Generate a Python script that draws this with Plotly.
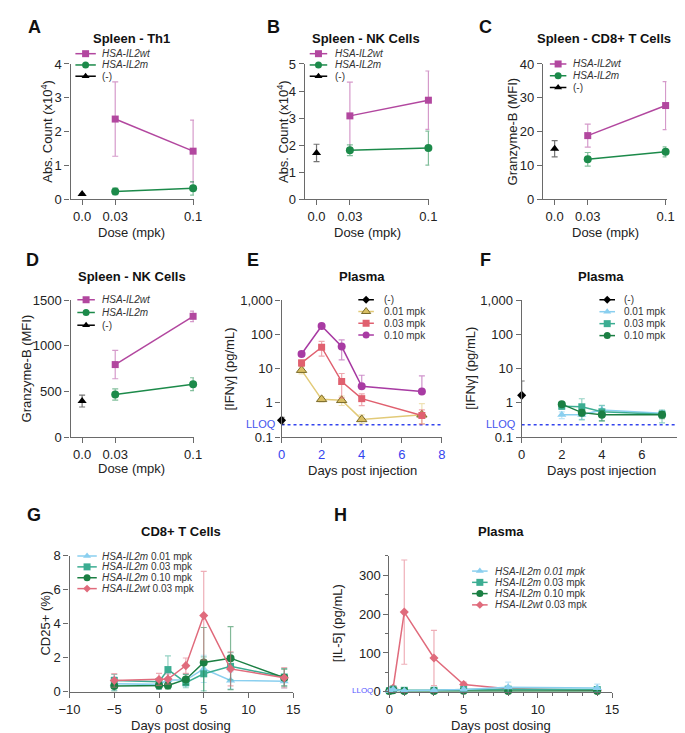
import math
import plotly.graph_objects as go

W, H = 685, 733
FONT = "Liberation Sans, Arial, Helvetica, sans-serif"
AX = "#6a6a6a"
TXT = "#222222"

# ---------------- data ----------------
dose_labels = ["0.0", "0.03", "0.1"]
dose_values = [0.0, 0.03, 0.1]
treated_doses = [0.03, 0.1]
control_dose = [0.0]

# A  Spleen - Th1, Abs. count (x10^4)
th1_wt = [2.37, 1.42]; th1_wt_err = [1.10, 0.92]
th1_m = [0.23, 0.32]; th1_m_err = [0.10, 0.20]
th1_neg = [0.15]; th1_neg_err = [0.0]

# B  Spleen - NK cells, Abs. count (x10^4)
nk_wt = [3.08, 3.66]; nk_wt_err = [1.25, 1.08]
nk_m = [1.81, 1.89]; nk_m_err = [0.20, 0.63]
nk_neg = [1.71]; nk_neg_err = [0.32]

# C  Spleen - CD8+ T cells, Granzyme-B (MFI)
cd8_wt = [18.8, 27.7]; cd8_wt_err = [3.4, 7.1]
cd8_m = [11.8, 14.0]; cd8_m_err = [2.0, 1.5]
cd8_neg = [14.9]; cd8_neg_err = [2.4]

# D  Spleen - NK cells, Granzyme-B (MFI)
nkg_wt = [794, 1322]; nkg_wt_err = [155, 57]
nkg_m = [467, 580]; nkg_m_err = [62, 70]
nkg_neg = [395]; nkg_neg_err = [65]

# E  Plasma IFNg, HSA-IL2wt doses
e_days = [1, 2, 3, 4, 7]
e_neg_day = [0]; e_neg = [0.31]; e_neg_hi = [0.07]; e_neg_lo = [0.07]
e_001 = [9.0, 1.27, 1.19, 0.33, 0.45]
e_001_hi = [2.5, 0.25, 0.40, 0.12, 0.50]; e_001_lo = [2.0, 0.20, 0.35, 0.08, 0.20]
e_003 = [14.7, 42.0, 4.2, 1.33, 0.43]
e_003_hi = [3.0, 20.0, 3.0, 0.50, 0.20]; e_003_lo = [3.0, 19.0, 2.8, 0.50, 0.19]
e_010 = [26.6, 175.0, 44.0, 3.05, 2.15]
e_010_hi = [4.0, 15.0, 25.0, 3.35, 4.0]; e_010_lo = [4.0, 15.0, 26.0, 0.0, 0.0]

# F  Plasma IFNg, HSA-IL2m doses
f_days = [2, 3, 4, 7]
f_neg_day = [0]; f_neg = [1.66]; f_neg_hi = [2.7]; f_neg_lo = [0.0]
f_001 = [0.45, 0.45, 0.62, 0.50]
f_001_hi = [0.10, 0.15, 0.20, 0.10]; f_001_lo = [0.10, 0.12, 0.15, 0.10]
f_003 = [0.80, 0.77, 0.55, 0.47]
f_003_hi = [0.15, 0.55, 0.30, 0.15]; f_003_lo = [0.15, 0.45, 0.25, 0.21]
f_010 = [0.92, 0.52, 0.45, 0.45]
f_010_hi = [0.10, 0.10, 0.15, 0.10]; f_010_lo = [0.10, 0.10, 0.15, 0.10]

lloq_ifng = 0.23

# G  CD8+ T cells CD25+ (%)
g_days = [-5, 0, 1, 3, 5, 8, 14]
g_m001 = [0.48, 0.44, 0.69, 0.69, 1.35, 0.67, 0.63]; g_m001_err = [0.40, 0.30, 0.40, 0.35, 0.80, 0.50, 0.40]
g_m003 = [0.67, 0.60, 1.31, 0.54, 1.06, 1.50, 0.87]; g_m003_err = [0.35, 0.20, 0.80, 0.30, 1.00, 0.80, 0.50]
g_m010 = [0.35, 0.38, 0.38, 0.73, 1.73, 1.98, 0.83]; g_m010_err = [0.30, 0.20, 0.20, 0.30, 2.05, 1.85, 0.50]
g_wt003 = [0.67, 0.73, 0.75, 1.54, 4.48, 1.35, 0.83]; g_wt003_err = [0.40, 0.35, 0.30, 0.45, 2.60, 1.00, 0.60]

# H  Plasma IL-5 (pg/mL)
h_days = [0, 0.25, 1, 3, 5, 8, 14]
h_m001 = [3, 6, 3, 4, 6, 12, 10]; h_m001_err = [2, 3, 2, 3, 4, 13, 10]
h_m003 = [3, 7, 4, 4, 6, 7, 6]; h_m003_err = [2, 3, 2, 2, 3, 5, 4]
h_m010 = [2, 4, 2, 2, 3, 2, 2]; h_m010_err = [1, 2, 1, 1, 2, 1, 1]
h_wt003 = [3, 10, 205, 87, 19, 8, 4]; h_wt003_err = [2, 5, 134, 71, 6, 3, 2]

# ---------------- colours ----------------
C_WT = "#B2479F"
C_M = "#1C8A4A"
C_BLK = "#000000"
C_Y = "#D8BE62"; C_Y_LINE = "#E2CA78"; C_Y_EDGE = "#7A6A2A"
C_R = "#E0606F"
C_P = "#A83BA3"
C_LB = "#8ACFEF"
C_TEAL = "#3CAD92"
C_DG = "#1B7F43"
C_PINK = "#E06B7C"
C_BLUE = "#3344EE"


def rgba(hx, a):
    hx = hx.lstrip("#")
    r, g, b = int(hx[0:2], 16), int(hx[2:4], 16), int(hx[4:6], 16)
    return f"rgba({r},{g},{b},{a})"


def dose_axis(d):
    # segmented dose axis: 0 on its own segment, log spacing for treated doses
    return 0.0 if d == 0 else 1.0 + 4.5 * math.log10(d / 0.03)


fig = go.Figure()
layout = {}


def base_axis(**kw):
    d = dict(showline=True, linecolor=AX, linewidth=1.3, ticks="outside", ticklen=5,
             tickwidth=1.3, tickcolor=AX, showgrid=False, zeroline=False,
             tickfont=dict(family=FONT, size=13, color=TXT), fixedrange=True)
    d.update(kw)
    return d


def set_axes(n, xpx, ypx, xkw, ykw):
    k = "" if n == 1 else str(n)
    layout["xaxis" + k] = base_axis(domain=[xpx[0] / W, xpx[1] / W], anchor="y" + k, **xkw)
    layout["yaxis" + k] = base_axis(domain=[1 - ypx[1] / H, 1 - ypx[0] / H], anchor="x" + k, **ykw)


def series(n, x, y, err, color, symbol, size=8, err_lo=None, line_color=None, edge=None):
    k = "" if n == 1 else str(n)
    ey = dict(type="data", array=err, color=rgba(line_color or color, 0.55), thickness=1.2, width=3)
    if err_lo is not None:
        ey.update(symmetric=False, arrayminus=err_lo)
    fig.add_trace(go.Scatter(
        x=x, y=y, mode="lines+markers", xaxis="x" + k, yaxis="y" + k,
        marker=dict(symbol=symbol, size=size, color=color,
                    line=dict(width=0 if edge is None else 1, color=edge or color)),
        line=dict(color=line_color or color, width=1.5),
        error_y=ey, cliponaxis=False, showlegend=False, hoverinfo="skip"))


dose_ticks = dict(range=[-0.35, 3.38], tickmode="array",
                  tickvals=[dose_axis(d) for d in dose_values], ticktext=dose_labels)
tx = [dose_axis(d) for d in treated_doses]
cx = [dose_axis(d) for d in control_dose]

# A
set_axes(1, (53, 180), (50, 188), dose_ticks, dict(range=[0, 4], dtick=1))
series(1, tx, th1_wt, th1_wt_err, C_WT, "square", 7)
series(1, tx, th1_m, th1_m_err, C_M, "circle", 8)
series(1, cx, th1_neg, th1_neg_err, C_BLK, "triangle-up", 8)
# B
set_axes(2, (294, 422), (50, 188), dose_ticks, dict(range=[0, 5], dtick=1))
series(2, tx, nk_wt, nk_wt_err, C_WT, "square", 7)
series(2, tx, nk_m, nk_m_err, C_M, "circle", 8)
series(2, cx, nk_neg, nk_neg_err, C_BLK, "triangle-up", 8)
# C
set_axes(3, (539, 666), (50, 188), dose_ticks, dict(range=[0, 40], dtick=10))
series(3, tx, cd8_wt, cd8_wt_err, C_WT, "square", 7)
series(3, tx, cd8_m, cd8_m_err, C_M, "circle", 8)
series(3, cx, cd8_neg, cd8_neg_err, C_BLK, "triangle-up", 8)
# D
set_axes(4, (53, 180), (291, 431), dose_ticks, dict(range=[0, 1500], dtick=500))
series(4, tx, nkg_wt, nkg_wt_err, C_WT, "square", 7)
series(4, tx, nkg_m, nkg_m_err, C_M, "circle", 8)
series(4, cx, nkg_neg, nkg_neg_err, C_BLK, "triangle-up", 8)

log_ticks = dict(type="log", range=[-1, 3], tickmode="array",
                 tickvals=[0.1, 1, 10, 100, 1000], ticktext=["0.1", "1", "10", "100", "1,000"])
# E
set_axes(5, (270, 435), (291, 431),
         dict(range=[0, 8], dtick=2, tickfont=dict(family=FONT, size=13, color=C_BLUE)), log_ticks)
fig.add_trace(go.Scatter(x=[0, 8], y=[lloq_ifng, lloq_ifng], mode="lines", xaxis="x5", yaxis="y5",
                         line=dict(color=C_BLUE, width=1.6, dash="dot"), showlegend=False, hoverinfo="skip"))
series(5, e_days, e_001, e_001_hi, C_Y, "triangle-up", 9, e_001_lo, line_color=C_Y_LINE, edge=C_Y_EDGE)
series(5, e_days, e_003, e_003_hi, C_R, "square", 7, e_003_lo)
series(5, e_days, e_010, e_010_hi, C_P, "circle", 8, e_010_lo)
series(5, e_neg_day, e_neg, e_neg_hi, C_BLK, "diamond", 7, e_neg_lo)
# F
set_axes(6, (517, 682), (291, 431), dict(range=[0, 8], dtick=2), log_ticks)
fig.add_trace(go.Scatter(x=[0, 8], y=[lloq_ifng, lloq_ifng], mode="lines", xaxis="x6", yaxis="y6",
                         line=dict(color=C_BLUE, width=1.6, dash="dot"), showlegend=False, hoverinfo="skip"))
series(6, f_days, f_001, f_001_hi, C_LB, "triangle-up", 8, f_001_lo)
series(6, f_days, f_003, f_003_hi, C_TEAL, "square", 7, f_003_lo)
series(6, f_days, f_010, f_010_hi, C_DG, "circle", 8, f_010_lo)
series(6, f_neg_day, f_neg, f_neg_hi, C_BLK, "diamond", 7, f_neg_lo)
# G
set_axes(7, (52, 282), (552, 691), dict(range=[-10, 15], dtick=5), dict(range=[0, 8], dtick=2))
series(7, g_days, g_m001, g_m001_err, C_LB, "triangle-up", 8)
series(7, g_days, g_m003, g_m003_err, C_TEAL, "square", 7)
series(7, g_days, g_m010, g_m010_err, C_DG, "circle", 8)
series(7, g_days, g_wt003, g_wt003_err, C_PINK, "diamond", 7)
# H
set_axes(8, (381, 610), (552, 691),
         dict(range=[0, 15], dtick=5, minor=dict(dtick=1, ticklen=3, tickcolor=AX, ticks="outside")),
         dict(range=[0, 350], tickmode="array", tickvals=[0, 100, 200, 300],
              minor=dict(tickvals=[50, 150, 250, 350], ticklen=3, tickcolor=AX, ticks="outside")))
series(8, h_days, h_wt003, h_wt003_err, C_PINK, "diamond", 7)
series(8, h_days, h_m003, h_m003_err, C_TEAL, "square", 7)
series(8, h_days, h_m010, h_m010_err, C_DG, "circle", 8)
series(8, h_days, h_m001, h_m001_err, C_LB, "triangle-up", 8)

# overlay pixel axes used for legends and labels
layout["xaxis9"] = dict(domain=[0, 1], range=[0, W], visible=False, fixedrange=True, anchor="y9")
layout["yaxis9"] = dict(domain=[0, 1], range=[H, 0], visible=False, fixedrange=True, anchor="x9")

annotations = []


def text(x, y, s, size=13, bold=False, angle=0, color=TXT, xanchor="center"):
    if bold:
        s = f"<b>{s}</b>"
    annotations.append(dict(x=x, y=y, xref="x9", yref="y9", text=s, showarrow=False,
                            textangle=angle, xanchor=xanchor, yanchor="middle",
                            font=dict(family=FONT, size=size, color=color)))


def legend(items, x0, x1, y0, dy, tx0):
    for i, (label, color, symbol, size, edge, lcolor) in enumerate(items):
        y = y0 + i * dy
        fig.add_trace(go.Scatter(x=[x0, x1], y=[y, y], mode="lines", xaxis="x9", yaxis="y9",
                                 line=dict(color=lcolor or color, width=1.5),
                                 showlegend=False, hoverinfo="skip"))
        fig.add_trace(go.Scatter(x=[(x0 + x1) / 2], y=[y], mode="markers", xaxis="x9", yaxis="y9",
                                 marker=dict(symbol=symbol, size=size, color=color,
                                             line=dict(width=0 if edge is None else 1, color=edge or color)),
                                 showlegend=False, hoverinfo="skip"))
        text(tx0, y, label, size=10, color="#333333", xanchor="left")


lg_dose = [("<i>HSA-IL2wt</i>", C_WT, "square", 7, None, None),
           ("<i>HSA-IL2m</i>", C_M, "circle", 7, None, None),
           ("(-)", C_BLK, "triangle-up", 7, None, None)]
legend(lg_dose, 58, 79, 39.5, 11.5, 83)
legend(lg_dose, 299, 317, 39.5, 11.5, 323)
legend(lg_dose, 546, 563, 50, 12, 568)
legend(lg_dose, 60, 78, 290.7, 13, 83)
legend([("(-)", C_BLK, "diamond", 6, None, None),
        ("0.01 mpk", C_Y, "triangle-up", 8, C_Y_EDGE, C_Y_LINE),
        ("0.03 mpk", C_R, "square", 7, None, None),
        ("0.10 mpk", C_P, "circle", 7, None, None)], 349, 365, 290.7, 12, 373)
legend([("(-)", C_BLK, "diamond", 6, None, None),
        ("0.01 mpk", C_LB, "triangle-up", 7, None, None),
        ("0.03 mpk", C_TEAL, "square", 7, None, None),
        ("0.10 mpk", C_DG, "circle", 7, None, None)], 597, 613, 290.7, 12.2, 620)
legend([("<i>HSA-IL2m</i> 0.01 mpk", C_LB, "triangle-up", 7, None, None),
        ("<i>HSA-IL2m</i> 0.03 mpk", C_TEAL, "square", 7, None, None),
        ("<i>HSA-IL2m</i> 0.10 mpk", C_DG, "circle", 7, None, None),
        ("<i>HSA-IL2wt</i> 0.03 mpk", C_PINK, "diamond", 6, None, None)], 60, 80, 552.3, 11.1, 83)
legend([("<i>HSA-IL2m 0.01 mpk</i>", C_LB, "triangle-up", 7, None, None),
        ("<i>HSA-IL2m</i> 0.03 mpk", C_TEAL, "square", 7, None, None),
        ("<i>HSA-IL2m</i> 0.10 mpk", C_DG, "circle", 7, None, None),
        ("<i>HSA-IL2wt</i> 0.03 mpk", C_PINK, "diamond", 6, None, None)], 466, 482, 567.7, 11.5, 488)

# panel letters
for L, x, y in [("A", 16, 12), ("B", 262, 12), ("C", 480, 12), ("D", 14, 250),
                ("E", 241, 250), ("F", 480, 250), ("G", 15, 510), ("H", 331, 510)]:
    text(x, y, L, size=18, bold=True, color="#111111")

# panel titles
for s, x, y in [("Spleen - Th1", 116, 24), ("Spleen - NK Cells", 357, 24),
                ("Spleen - CD8+ T Cells", 602, 24), ("Spleen - NK Cells", 116, 267),
                ("Plasma", 353, 267), ("Plasma", 599, 267),
                ("CD8+ T Cells", 167, 527), ("Plasma", 496, 527)]:
    text(x, y, s, size=13, bold=True, color="#111111")

# axis titles
for s, x, y in [("Dose (mpk)", 116, 222), ("Dose (mpk)", 358, 222), ("Dose (mpk)", 603, 222),
                ("Dose (mpk)", 116, 463), ("Days post injection", 353, 465),
                ("Days post injection", 599, 465), ("Days post dosing", 167, 725),
                ("Days post dosing", 496, 725)]:
    text(x, y, s, size=13)
for s, x, y in [("Abs. Count (x10<sup>4</sup>)", 28, 119), ("Abs. Count (x10<sup>4</sup>)", 271, 119),
                ("Granzyme-B (MFI)", 508, 119), ("Granzyme-B (MFI)", 8, 361),
                ("[IFNγ] (pg/mL)", 217, 361), ("[IFNγ] (pg/mL)", 464, 361),
                ("CD25+ (%)", 27, 621), ("[IL-5] (pg/mL)", 327, 621)]:
    text(x, y, s, size=13, angle=-90)

# LLOQ labels
text(266, 418, "LLOQ", size=11, color="#4455EE", xanchor="right")
text(513, 418, "LLOQ", size=11, color="#4455EE", xanchor="right")
text(366, 690, "LLOQ", size=8, color="#5555FF", xanchor="right")

fig.update_layout(**layout)
fig.update_layout(width=W, height=H, margin=dict(l=0, r=0, t=0, b=0),
                  paper_bgcolor="white", plot_bgcolor="rgba(0,0,0,0)",
                  annotations=annotations, showlegend=False,
                  font=dict(family=FONT, size=13, color=TXT))

fig.write_html("out.html", config={"displayModeBar": False})
